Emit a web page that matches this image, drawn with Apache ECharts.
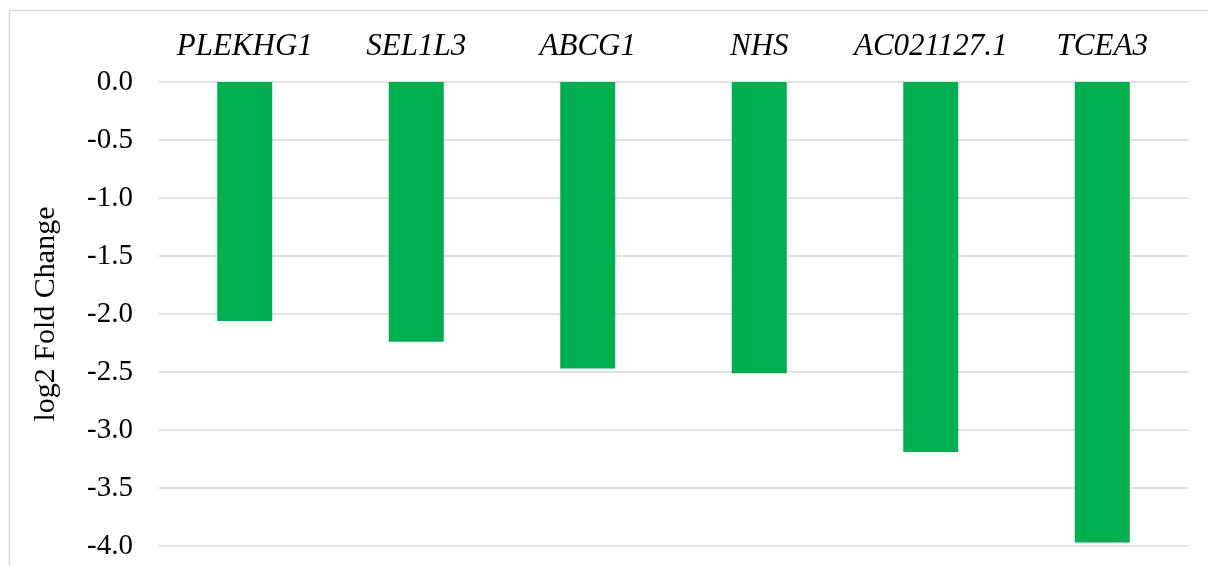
<!DOCTYPE html>
<html>
<head>
<meta charset="utf-8">
<script src="https://cdn.jsdelivr.net/npm/echarts@6/dist/echarts.min.js"></script>
<style>
  html, body { margin: 0; padding: 0; background: #ffffff; }
  #chart { width: 1208px; height: 566px; }
</style>
</head>
<body>
<div id="chart"></div>
<script>
// Genes and their log2 fold change
const genes = ['PLEKHG1', 'SEL1L3', 'ABCG1', 'NHS', 'AC021127.1', 'TCEA3'];
const log2FoldChange = [-2.06, -2.24, -2.47, -2.51, -3.19, -3.97];
const yTicks = { min: -4.0, max: 0.0, step: 0.5 };

const serif = '"Liberation Serif", "Times New Roman", serif';
const chart = echarts.init(document.getElementById('chart'), null, { renderer: 'canvas' });

chart.setOption({
  animation: false,
  backgroundColor: '#ffffff',
  grid: { left: 159, right: 20, top: 82, bottom: 20, containLabel: false },
  graphic: [{
    type: 'rect',
    silent: true,
    shape: { x: 9.5, y: 10.5, width: 1400, height: 800 },
    style: { fill: 'none', stroke: '#d9d9d9', lineWidth: 1.5 }
  }],
  xAxis: {
    type: 'category',
    position: 'top',
    data: genes,
    axisLine: { show: false },
    axisTick: { show: false },
    axisLabel: {
      interval: 0,
      margin: 20,
      fontFamily: serif,
      fontStyle: 'italic',
      fontSize: 31,
      color: '#000000'
    }
  },
  yAxis: {
    type: 'value',
    min: yTicks.min,
    max: yTicks.max,
    interval: yTicks.step,
    name: 'log2 Fold Change',
    nameLocation: 'middle',
    nameRotate: 90,
    nameGap: 98,
    nameTextStyle: { fontFamily: serif, fontSize: 30, color: '#000000' },
    axisLine: { show: false },
    axisTick: { show: false },
    splitLine: { lineStyle: { color: '#d9d9d9', width: 1.5 } },
    axisLabel: {
      margin: 26,
      fontFamily: serif,
      fontSize: 29,
      color: '#000000',
      formatter: v => v.toFixed(1)
    }
  },
  series: [{
    type: 'bar',
    data: log2FoldChange,
    barWidth: 55,
    itemStyle: { color: '#00b050' }
  }]
});
</script>
</body>
</html>
